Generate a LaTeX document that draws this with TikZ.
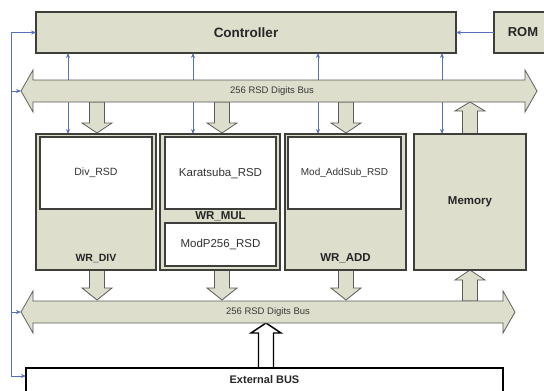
\documentclass[tikz,border=0pt]{standalone}
\usepackage{fontspec}
\setmainfont{Liberation Sans}
\usetikzlibrary{arrows.meta}
\definecolor{boxfill}{RGB}{221,223,204}
\definecolor{edge}{RGB}{62,62,58}
\definecolor{ctl}{RGB}{88,112,188}
\definecolor{txt}{RGB}{50,50,50}
\tikzset{
  unitbox/.style={draw=edge, line width=1.3pt, fill=boxfill, anchor=north west, inner sep=0pt, outer sep=0pt},
  inbox/.style={draw=edge, line width=1.1pt, fill=white, anchor=north west, inner sep=0pt, outer sep=0pt},
  extbox/.style={draw=black, line width=2pt, fill=white, anchor=north west, inner sep=0pt, outer sep=0pt},
  ctlline/.style={draw=ctl, line width=0.8pt},
  ctltip/.style={-{Stealth[length=5pt,width=4pt]}},
  ctltips/.style={{Stealth[length=5pt,width=4pt]}-{Stealth[length=5pt,width=4pt]}},
  fat/.style={draw=edge!85, line width=0.8pt, fill=boxfill},
  extfat/.style={draw=black, line width=1.4pt, fill=white},
  boldlbl/.style={font=\bfseries, text=black!85, inner sep=0pt},
  plainlbl/.style={text=txt, inner sep=0pt},
  buslbl/.style={text=black!78, inner sep=0pt, font=\fontsize{9.5}{10}\selectfont},
}
% block arrow: centre x, base y, tip y, head-back y, style
\newcommand{\blockarrow}[5]{%
  \draw[#5] (#1-7.5,#2) -- (#1-7.5,#4) -- (#1-15,#4) -- (#1,#3) -- (#1+15,#4) -- (#1+7.5,#4) -- (#1+7.5,#2) -- cycle;}
\begin{document}
\begin{tikzpicture}[x=1pt,y=-1pt]
\useasboundingbox (0,0) rectangle (544,391);

% main boxes (nodes)
\node[unitbox, minimum width=420, minimum height=41] (ctrl) at (36,12) {};
\node[boldlbl, font=\bfseries\fontsize{13.5}{14}\selectfont] (ctrlt) at (ctrl.center) {Controller};
\node[unitbox, minimum width=62, minimum height=41] (rom) at (494,12) {};
\node[boldlbl, font=\bfseries\fontsize{13}{14}\selectfont] (romt) at (523,32.5) {ROM};

% coordinates for vertical control lines
\coordinate (v1) at (68,0);
\coordinate (v2) at (193,0);
\coordinate (v3) at (318,0);
\coordinate (v4) at (442,0);
\coordinate (fb) at (11,0);

% module placeholders for connector targets
\coordinate (divtop) at (96,134);
\coordinate (multop) at (220,134);
\coordinate (addtop) at (345,134);
\coordinate (memtop) at (470,134);

% control lines (drawn first, buses cover them)
\draw[ctlline, ctltips] (v1 |- ctrl.south) -- (v1 |- divtop);
\draw[ctlline, ctltips] (v2 |- ctrl.south) -- (v2 |- multop);
\draw[ctlline, ctltips] (v3 |- ctrl.south) -- (v3 |- addtop);
\draw[ctlline, ctltips] (v4 |- ctrl.south) -- (v4 |- memtop);
\draw[ctlline, ctltip] (rom.west) -- (rom.west -| ctrl.east);

% fat arrows top
\blockarrow{97}{102}{133}{123}{fat}
\blockarrow{222}{102}{133}{123}{fat}
\blockarrow{346}{102}{133}{123}{fat}
\blockarrow{470}{134}{102}{111}{fat}
% fat arrows bottom
\blockarrow{97}{270}{300}{288}{fat}
\blockarrow{222}{270}{300}{288}{fat}
\blockarrow{346}{270}{300}{288}{fat}
\blockarrow{470}{301}{270}{280}{fat}
% external bus arrow
\blockarrow{266}{368}{323}{333}{extfat}

% buses
\coordinate (tbL) at (21,91);
\coordinate (bbL) at (21,312);
\draw[fat] (tbL) -- (33,70) -- (33,80) -- (525,80) -- (525,70) -- (537,91) -- (525,112) -- (525,102) -- (33,102) -- (33,112) -- cycle;
\node[buslbl] (tbus) at (272,91) {256 RSD Digits Bus};
\draw[fat] (bbL) -- (33,291) -- (33,301) -- (503,301) -- (503,291) -- (515,312) -- (503,333) -- (503,323) -- (33,323) -- (33,333) -- cycle;
\node[buslbl] (bbus) at (268,312.5) {256 RSD Digits Bus};

% modules
\node[unitbox, minimum width=120, minimum height=136] (wrdiv) at (36,134) {};
\node[inbox, minimum width=112, minimum height=72] (div) at (40,137) {};
\node[plainlbl, font=\fontsize{10.5}{11}\selectfont] (divt) at (div.center) {Div\_RSD};
\node[boldlbl, font=\bfseries\fontsize{10.5}{11}\selectfont] (wrdivt) at (96,259) {WR\_DIV};

\node[unitbox, minimum width=120, minimum height=136] (wrmul) at (160,134) {};
\node[inbox, minimum width=111, minimum height=72] (kara) at (165,137) {};
\node[plainlbl, font=\fontsize{11.5}{12}\selectfont] (karat) at (kara.center) {Karatsuba\_RSD};
\node[boldlbl, font=\bfseries\fontsize{11.5}{12}\selectfont] (wrmult) at (220.5,216) {WR\_MUL};
\node[inbox, minimum width=111, minimum height=43] (modp) at (165,223) {};
\node[plainlbl, font=\fontsize{11.5}{12}\selectfont] (modpt) at (modp.center) {ModP256\_RSD};

\node[unitbox, minimum width=121, minimum height=136] (wradd) at (285,134) {};
\node[inbox, minimum width=113, minimum height=72] (addsub) at (288,137) {};
\node[plainlbl, font=\fontsize{10}{10}\selectfont] (addsubt) at (addsub.center) {Mod\_AddSub\_RSD};
\node[boldlbl, font=\bfseries\fontsize{11.5}{12}\selectfont] (wraddt) at (345.5,258) {WR\_ADD};

\node[unitbox, minimum width=112, minimum height=136] (mem) at (414,134) {};
\node[boldlbl, font=\bfseries\fontsize{11.5}{12}\selectfont] (memt) at (mem.center) {Memory};

% external bus
\node[extbox, minimum width=477, minimum height=32] (ext) at (26,368) {};
\node[boldlbl, font=\bfseries\fontsize{11}{12}\selectfont] (extt) at (264.5,380) {External BUS};
\coordinate (extin) at (26,376);

% feedback line on the left
\draw[ctlline] (fb |- ctrl.west) -- (fb |- extin);
\draw[ctlline, ctltip] (fb |- ctrl.west) -- (ctrl.west);
\draw[ctlline, ctltip] (fb |- tbL) -- (tbL);
\draw[ctlline, ctltip] (fb |- bbL) -- (bbL);
\draw[ctlline, ctltip] (fb |- extin) -- (extin);
\end{tikzpicture}
\end{document}
